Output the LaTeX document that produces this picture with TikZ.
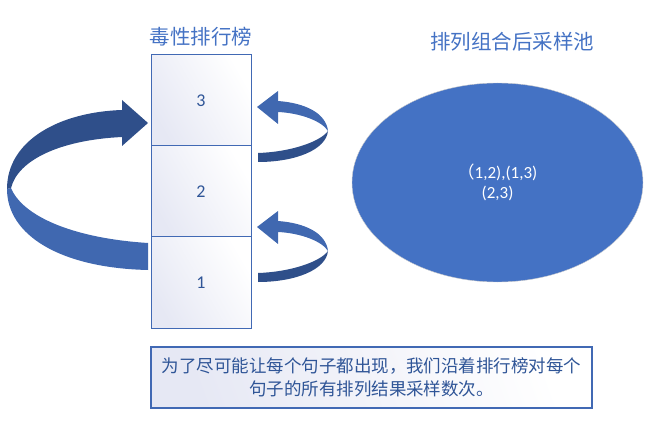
\documentclass[tikz,border=0pt]{standalone}
\usepackage{fontspec}
\setmainfont{Carlito}
\newfontfamily\cjk{Noto Sans CJK SC}
\usetikzlibrary{positioning,shapes.geometric}
\definecolor{rankblue}{HTML}{4169B4}
\definecolor{titleblue}{HTML}{4472C4}
\definecolor{numblue}{HTML}{2F5597}
\definecolor{cellshade}{HTML}{E6E8F4}
\definecolor{frontblue}{HTML}{4068B0}
\definecolor{backblue}{HTML}{2F4F8A}
\definecolor{poolblue}{HTML}{4472C4}

\begin{document}
\begin{tikzpicture}[x=1pt,y=-1pt,
    cell/.style={draw=rankblue, line width=1pt, outer sep=0pt, inner sep=0pt,
      minimum width=100pt, minimum height=91pt,
      left color=cellshade, right color=white, shading angle=120,
      text=numblue, font=\fontsize{18}{20}\selectfont},
    heading/.style={text=titleblue, font=\cjk\fontsize{20.5}{24}\selectfont}]
    \useasboundingbox (0,0) rectangle (646,441);
    % ranking column
    \node[cell] (c3) at (201,100.5) {3} ;
    \node[cell, below=0pt of c3] (c2) {2} ;
    \node[cell, below=0pt of c2] (c1) {1} ;
    \node[heading] (rank) at (201,37) {毒性排行榜} ;
    % big loop from 1 back to 3
    \fill[backblue] (122,110) .. controls (60,112) and (7,140) .. (7,189)
      -- (11,188) .. controls (18,160) and (60,140) .. (122,137) -- cycle;
    \fill[backblue] (122,100) -- (148,123) -- (122,146) -- cycle;
    \fill[frontblue] (7,189) .. controls (7,235) and (60,268) .. (148,270)
      -- (148,243) .. controls (70,238) and (22,215) .. (11,188) -- cycle;
    % small loops on the right
    \foreach \dy in {0,120} {
      \begin{scope}[shift={(0,\dy)}]
        \fill[backblue] (258,153) .. controls (290,152) and (320,142) .. (328,131)
          .. controls (326,150) and (295,162) .. (258,162) -- cycle;
        \fill[frontblue] (278,101) .. controls (305,103) and (326,113) .. (328,131)
          .. controls (322,121) and (300,113) .. (278,112) -- cycle;
        \fill[frontblue] (278,91) -- (257,107) -- (278,124) -- cycle;
      \end{scope}
    }
    % sampling pool
    \node[heading] (pooltitle) at (512,42) {排列组合后采样池} ;
    \node[ellipse, fill=poolblue, draw=gray!40, line width=0.4pt, inner sep=0pt,
      minimum width=291pt, minimum height=199pt, text=white, align=center,
      font=\fontsize{17}{20}\selectfont] (pool) at (497.5,182.5)
      {{\cjk （}1,2),(1,3)\\(2,3)} ;
    % note
    \node[draw=rankblue, line width=1.3pt, inner sep=0pt,
      minimum width=441pt, minimum height=61pt,
      left color=cellshade, right color=white, shading angle=110,
      text=numblue, align=center, font=\cjk\fontsize{17.5}{23}\selectfont] (note)
      at (371.5,377.5)
      {为了尽可能让每个句子都出现，我们沿着排行榜对每个\\句子的所有排列结果采样数次。} ;
  \end{tikzpicture}
\end{document}
